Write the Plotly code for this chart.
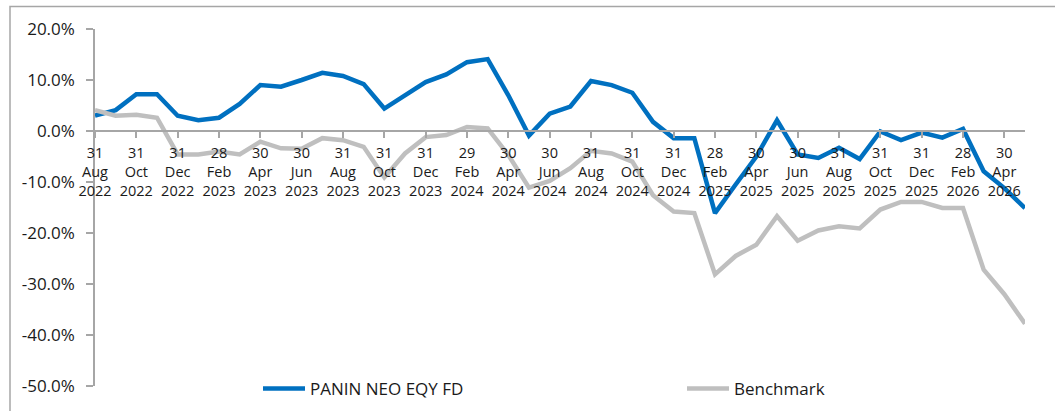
import plotly.graph_objects as go

dates = [
    "31 Aug 2022", "30 Sep 2022", "31 Oct 2022", "30 Nov 2022", "31 Dec 2022",
    "31 Jan 2023", "28 Feb 2023", "31 Mar 2023", "30 Apr 2023", "31 May 2023",
    "30 Jun 2023", "31 Jul 2023", "31 Aug 2023", "30 Sep 2023", "31 Oct 2023",
    "30 Nov 2023", "31 Dec 2023", "31 Jan 2024", "29 Feb 2024", "31 Mar 2024",
    "30 Apr 2024", "31 May 2024", "30 Jun 2024", "31 Jul 2024", "31 Aug 2024",
    "30 Sep 2024", "31 Oct 2024", "30 Nov 2024", "31 Dec 2024", "31 Jan 2025",
    "28 Feb 2025", "31 Mar 2025", "30 Apr 2025", "31 May 2025", "30 Jun 2025",
    "31 Jul 2025", "31 Aug 2025", "30 Sep 2025", "31 Oct 2025", "30 Nov 2025",
    "31 Dec 2025", "31 Jan 2026", "28 Feb 2026", "31 Mar 2026", "30 Apr 2026",
    "31 May 2026",
]

fund = [
    3.0, 4.1, 7.2, 7.2, 3.0, 2.1, 2.6, 5.3, 9.0, 8.7,
    10.0, 11.4, 10.8, 9.2, 4.4, 7.0, 9.6, 11.1, 13.5, 14.1,
    7.0, -0.9, 3.4, 4.8, 9.8, 9.0, 7.5, 1.8, -1.4, -1.4,
    -16.1, -10.5, -5.0, 2.1, -4.6, -5.3, -3.3, -5.5, -0.1, -1.8,
    -0.3, -1.3, 0.4, -7.9, -11.2, -15.1,
]

benchmark = [
    4.1, 3.0, 3.2, 2.6, -4.6, -4.6, -4.0, -4.6, -2.1, -3.4,
    -3.5, -1.4, -1.8, -3.1, -9.1, -4.4, -1.2, -0.8, 0.8, 0.5,
    -4.7, -11.1, -9.8, -7.3, -3.9, -4.4, -6.0, -12.6, -15.8, -16.1,
    -28.1, -24.5, -22.3, -16.7, -21.5, -19.5, -18.7, -19.1, -15.4, -13.9,
    -13.9, -15.1, -15.1, -27.2, -32.0, -37.8,
]

series_names = ["PANIN NEO EQY FD", "Benchmark"]
y_ticks = [20, 10, 0, -10, -20, -30, -40, -50]


def tick_label(d):
    day, mon, yr = d.split()
    return f"{day}<br>{mon}<br>{yr}"


tick_vals = dates[::2]
tick_text = [tick_label(d) for d in tick_vals]

FONT = "Open Sans"

fig = go.Figure()
fig.add_trace(go.Scatter(
    x=dates, y=fund, name=series_names[0], mode="lines",
    line=dict(color="#0070C0", width=4.5), legend="legend",
))
fig.add_trace(go.Scatter(
    x=dates, y=benchmark, name=series_names[1], mode="lines",
    line=dict(color="#BFBFBF", width=4.5), legend="legend2",
))

W, H = 1055, 411
ml, mr, mt, mb = 95, 30, 28.6, 25
pw, ph = W - ml - mr, H - mt - mb

legend_y = (mt + ph - 389) / ph
leg_common = dict(
    orientation="h", xanchor="left", y=legend_y, yanchor="middle",
    font=dict(family=FONT, size=17, color="#1a1a1a"),
    bgcolor="rgba(0,0,0,0)", itemwidth=42,
)

fig.update_layout(
    width=W, height=H,
    margin=dict(l=ml, r=mr, t=mt, b=mb, pad=0, autoexpand=False),
    paper_bgcolor="white", plot_bgcolor="white",
    font=dict(family=FONT, color="#1a1a1a", size=14),
    showlegend=True,
    legend=dict(x=(258 - ml) / pw, **leg_common),
    legend2=dict(x=(682 - ml) / pw, **leg_common),
    xaxis=dict(
        type="category", range=[0, len(dates) - 1],
        anchor="free", position=50 / 70,
        showline=True, linecolor="#A6A6A6", linewidth=1.5,
        showgrid=False, zeroline=False,
        ticks="outside", ticklen=6, tickwidth=1.5, tickcolor="#A6A6A6",
        tickvals=tick_vals, ticktext=tick_text,
        tickfont=dict(family=FONT, size=14.5, color="#1a1a1a"),
        tickangle=0, ticklabelstandoff=3,
    ),
    yaxis=dict(
        range=[-50, 20], tickvals=y_ticks,
        ticktext=[f"{v:.1f}%" for v in y_ticks],
        showline=True, linecolor="#A6A6A6", linewidth=1.5,
        showgrid=False, zeroline=False,
        ticks="outside", ticklen=7, tickwidth=1.5, tickcolor="#A6A6A6",
        tickfont=dict(family=FONT, size=17, color="#1a1a1a"),
        ticklabelstandoff=8,
    ),
)

# outer chart border (only left and top visible in frame)
fig.add_shape(
    type="rect", xref="paper", yref="paper",
    x0=(10 - ml) / pw, x1=(W + 20 - ml) / pw,
    y0=(mt + ph - (H + 20)) / ph, y1=(mt + ph - 6) / ph,
    line=dict(color="#A6A6A6", width=1.5), fillcolor="rgba(0,0,0,0)",
    layer="below",
)

fig.write_html(
    "out.html",
    config={"displayModeBar": False},
    post_script="document.body.style.margin='0';",
)
